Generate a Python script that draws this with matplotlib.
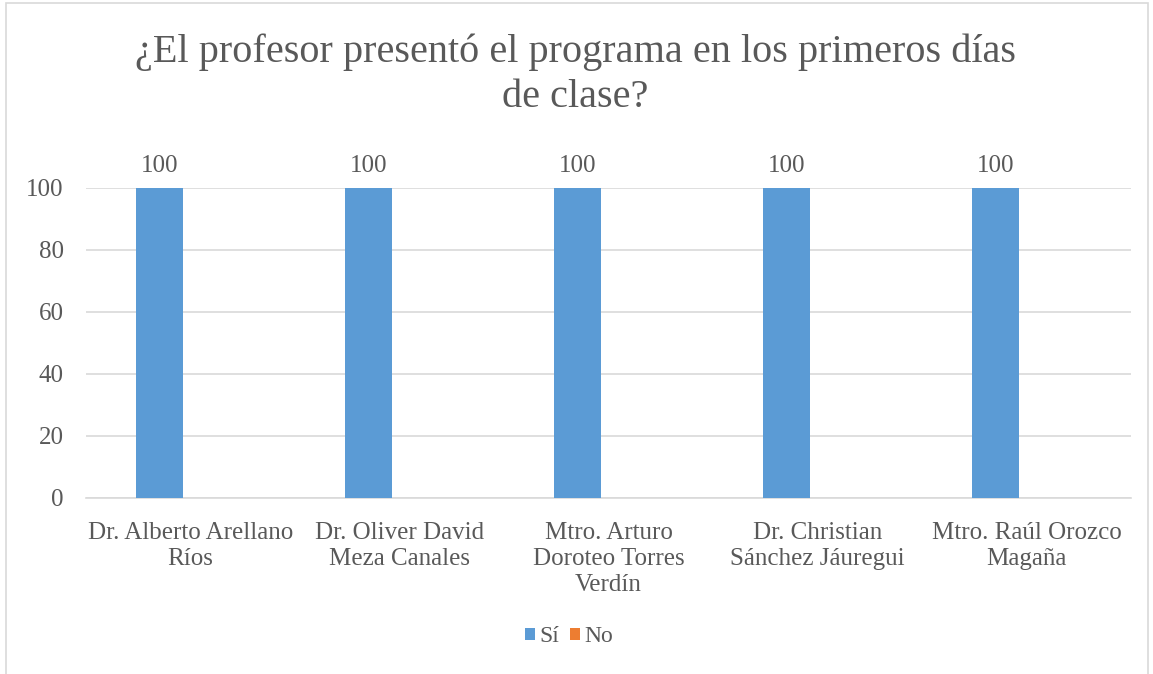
import numpy as np
import matplotlib.pyplot as plt
from matplotlib.patches import Rectangle

profesores = ["Dr. Alberto Arellano\nRíos", "Dr. Oliver David\nMeza Canales",
              "Mtro. Arturo\nDoroteo Torres\nVerdín", "Dr. Christian\nSánchez Jáuregui",
              "Mtro. Raúl Orozco\nMagaña"]
si = [100, 100, 100, 100, 100]
no = [0, 0, 0, 0, 0]
yticks = [0, 20, 40, 60, 80, 100]

texto = "#595959"
plt.rcParams['font.family'] = ['Liberation Serif', 'DejaVu Serif']

fig = plt.figure(figsize=(11.53, 6.74), dpi=100)
fig.patches.append(Rectangle((6 / 1153, -0.05), 1142 / 1153, 1.05 - 3 / 674,
                             transform=fig.transFigure, fill=False,
                             edgecolor="#D9D9D9", linewidth=1.2))
ax = fig.add_axes([86 / 1153, 1 - 498 / 674, 1045 / 1153, 310 / 674])

x = np.arange(len(profesores))
w = 0.225
b1 = ax.bar(x - 0.146, si, w, color="#5B9BD5", label="Sí", zorder=3)
b2 = ax.bar(x + 0.146, no, w, color="#ED7D31", label="No", zorder=3)

for rect, v in zip(b1, si):
    ax.annotate(str(v), (rect.get_x() + rect.get_width() / 2, v),
                xytext=(0, 8), textcoords="offset points", ha="center",
                va="bottom", fontsize=18, color=texto)

ax.set_xlim(-0.5, len(profesores) - 0.5)
ax.set_ylim(0, 100)
ax.set_yticks(yticks)
ax.grid(axis="y", color="#D9D9D9", linewidth=1.2, zorder=0)
ax.set_xticks(x)
ax.set_xticklabels(profesores, fontsize=18, color=texto, linespacing=1.25)
ax.tick_params(axis="y", labelsize=18, labelcolor=texto, length=0, pad=16)
ax.tick_params(axis="x", length=0, pad=17)
for s in ["top", "right", "left"]:
    ax.spines[s].set_visible(False)
ax.spines["bottom"].set_color("#D9D9D9")
ax.spines["bottom"].set_linewidth(1.2)

fig.text(0.499, 1 - 75 / 674, "¿El profesor presentó el programa en los primeros días\nde clase?",
         ha="center", va="center", fontsize=29, color=texto, linespacing=1.3)

fig.legend(loc="center", bbox_to_anchor=(569 / 1153, 1 - 637 / 674), ncol=2,
           frameon=False, fontsize=17, labelcolor=texto, handlelength=0.42,
           handleheight=0.42, handletextpad=0.2, columnspacing=0.45)

fig.savefig("out.png", dpi=100)
